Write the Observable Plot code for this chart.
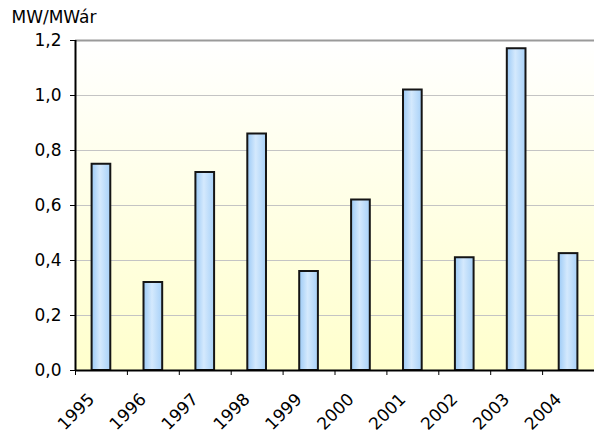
<!DOCTYPE html>
<html>
<head>
<meta charset="utf-8">
<script src="https://cdn.jsdelivr.net/npm/d3@7"></script>
<script src="https://cdn.jsdelivr.net/npm/@observablehq/plot@0.6"></script>
<style>
  html, body { margin: 0; padding: 0; background: #fff; }
</style>
</head>
<body>
<div id="chart"></div>
<script>
const years = [1995, 1996, 1997, 1998, 1999, 2000, 2001, 2002, 2003, 2004];
const values = [0.75, 0.32, 0.72, 0.86, 0.36, 0.62, 1.02, 0.41, 1.17, 0.425];
const yTicks = [0, 0.2, 0.4, 0.6, 0.8, 1.0, 1.2];
const unitLabel = "MW/MWár";

const data = years.map((year, i) => ({year, value: values[i]}));
const half = 0.18;
const xMin = years[0] - 0.5, xMax = years[years.length - 1] + 0.5;
const boundaries = years.map(y => y - 0.5);
const fmt = d => d.toFixed(1).replace(".", ",");

const plot = Plot.plot({
  width: 594,
  height: 434,
  marginLeft: 75,
  marginRight: 0,
  marginTop: 40,
  marginBottom: 64,
  style: {fontFamily: "DejaVu Sans, Verdana, sans-serif", fontSize: "17px", color: "#000", background: "#fff"},
  x: {domain: [xMin, xMax], axis: null, label: null},
  y: {domain: [0, yTicks[yTicks.length - 1]], axis: null, label: null},
  marks: [
    Plot.frame({fill: "url(#bgGrad)", stroke: "none"}),
    Plot.ruleY(yTicks.slice(1, -1), {stroke: "#c4c4c4", strokeWidth: 1}),
    Plot.ruleY(yTicks.slice(-1), {stroke: "#9a9a9a", strokeWidth: 2}),
    Plot.rectY(data, {
      x1: d => d.year - half,
      x2: d => d.year + half,
      y: "value",
      fill: "url(#barGrad)",
      stroke: "#151515",
      strokeWidth: 2
    }),
    Plot.ruleY([0], {stroke: "#000", strokeWidth: 2}),
    Plot.ruleX([xMin], {stroke: "#000", strokeWidth: 2}),
    Plot.axisY({ticks: yTicks, tickFormat: fmt, tickSize: 5, tickPadding: 9, stroke: "#000", label: null}),
    Plot.axisX({ticks: boundaries, tickFormat: () => "", tickSize: 5, stroke: "#000", label: null}),
    Plot.text(data, {
      x: "year",
      y: () => 0,
      text: d => String(d.year),
      rotate: -45,
      textAnchor: "end",
      lineAnchor: "middle",
      dx: -10,
      dy: 26,
      fill: "#000"
    }),
    Plot.text([unitLabel], {
      frameAnchor: "top-left",
      text: d => d,
      textAnchor: "start",
      lineAnchor: "bottom",
      dx: -64,
      dy: -18,
      fill: "#000"
    })
  ]
});

const svg = d3.select(plot);
const defs = svg.insert("defs", ":first-child");
const bg = defs.append("linearGradient").attr("id", "bgGrad")
  .attr("x1", 0).attr("y1", 0).attr("x2", 0).attr("y2", 1);
bg.append("stop").attr("offset", "0%").attr("stop-color", "#ffffff");
bg.append("stop").attr("offset", "100%").attr("stop-color", "#ffffcc");
const bar = defs.append("linearGradient").attr("id", "barGrad")
  .attr("x1", 0).attr("y1", 0).attr("x2", 1).attr("y2", 0);
bar.append("stop").attr("offset", "0%").attr("stop-color", "#9ccaf6");
bar.append("stop").attr("offset", "45%").attr("stop-color", "#d4e9fd");
bar.append("stop").attr("offset", "100%").attr("stop-color", "#a8d1f8");

document.getElementById("chart").appendChild(plot);
</script>
</body>
</html>
